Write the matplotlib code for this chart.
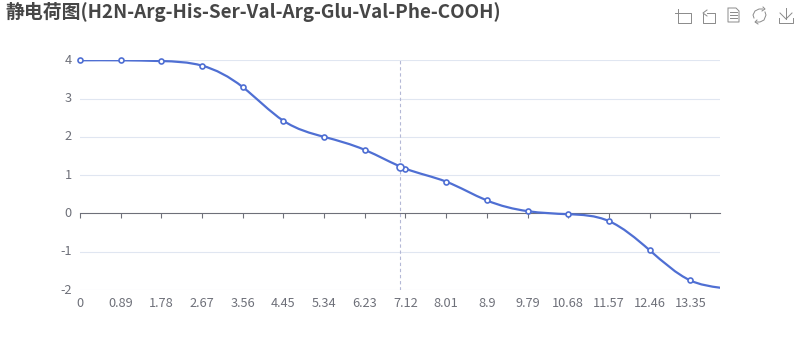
import matplotlib
matplotlib.use("Agg")
import matplotlib.pyplot as plt
import numpy as np
from matplotlib.lines import Line2D
from matplotlib.patches import PathPatch
from matplotlib.path import Path

plt.rcParams["font.family"] = ["Noto Sans CJK SC", "DejaVu Sans"]

LINE = "#4f6fd3"; TEXT = "#6e7079"; GRID = "#e0e6f1"; TITLE = "#464646"; POINTER = "#b4b8d6"; ICON = "#8a8a8a"

ph = [0, 0.89, 1.78, 2.67, 3.56, 4.45, 5.34, 6.23, 7.12, 8.01, 8.9, 9.79, 10.68, 11.57, 12.46, 13.35, 14]
charge = [4.0, 4.0, 3.98, 3.86, 3.3, 2.42, 2.0, 1.66, 1.17, 0.83, 0.34, 0.06, -0.02, -0.2, -0.96, -1.75, -1.94]
ph_ticks = [0, 0.89, 1.78, 2.67, 3.56, 4.45, 5.34, 6.23, 7.12, 8.01, 8.9, 9.79, 10.68, 11.57, 12.46, 13.35]
charge_ticks = [-2, -1, 0, 1, 2, 3, 4]
hover_ph = 7.01
hover_charge = 1.225
title = "静电荷图(H2N-Arg-His-Ser-Val-Arg-Glu-Val-Phe-COOH)"


def smooth_path(xs, ys):
    # natural cubic spline through the points, written as bezier segments
    n = len(xs)
    h = np.diff(xs)
    d = np.diff(ys) / h
    A = np.zeros((n, n))
    r = np.zeros(n)
    A[0, 0], A[0, 1], r[0] = 2, 1, 3 * d[0]
    A[-1, -1], A[-1, -2], r[-1] = 2, 1, 3 * d[-1]
    for i in range(1, n - 1):
        A[i, i - 1], A[i, i], A[i, i + 1] = h[i], 2 * (h[i - 1] + h[i]), h[i - 1]
        r[i] = 3 * (h[i] * d[i - 1] + h[i - 1] * d[i])
    m = np.linalg.solve(A, r)
    verts = [(xs[0], ys[0])]
    codes = [Path.MOVETO]
    for i in range(n - 1):
        verts.append((xs[i] + h[i] / 3, ys[i] + m[i] * h[i] / 3))
        verts.append((xs[i + 1] - h[i] / 3, ys[i + 1] - m[i + 1] * h[i] / 3))
        verts.append((xs[i + 1], ys[i + 1]))
        codes += [Path.CURVE4] * 3
    return Path(verts, codes)


fig = plt.figure(figsize=(8, 3.6), dpi=100)
ax = fig.add_axes([80 / 800, 70 / 360, 640 / 800, 229.7 / 360])
ax.set_xlim(0, 14)
ax.set_ylim(-2, 4)

for s in ("top", "right", "left"):
    ax.spines[s].set_visible(False)
ax.spines["bottom"].set_position(("data", 0))
ax.spines["bottom"].set_color(TEXT)
ax.spines["bottom"].set_linewidth(0.8)

for v in charge_ticks:
    if v != 0:
        ax.axhline(v, color=GRID, lw=0.8, zorder=1)
ax.axvline(hover_ph, color=POINTER, lw=0.8, ls=(0, (3, 2.5)), zorder=2)

ax.add_patch(PathPatch(smooth_path(ph, charge), fill=False, edgecolor=LINE, lw=1.6, zorder=3, capstyle="round"))
ax.plot(ph[:-1], charge[:-1], ls="none", marker="o", ms=3.6, mfc="white", mec=LINE, mew=1.2, zorder=4, clip_on=False)
ax.plot([hover_ph], [hover_charge], ls="none", marker="o", ms=5, mfc="white", mec=LINE, mew=1.2, zorder=5)

ax.set_xticks(ph_ticks)
ax.set_xticklabels([str(t) for t in ph_ticks], fontsize=9.2, color=TEXT)
ax.set_yticks(charge_ticks)
ax.set_yticklabels([str(t) for t in charge_ticks], fontsize=9.2, color=TEXT)
ax.tick_params(axis="x", length=3.6, width=0.8, color=TEXT, pad=56.5)
ax.tick_params(axis="y", length=0, pad=6)
for lab in ax.get_yticklabels():
    lab.set_verticalalignment("center")

fig.text(5 / 800, 1 - 12 / 360, title, fontsize=13.6, fontweight="bold", color=TITLE, ha="left", va="center")


# toolbox icons, given in pixels from the top left
def icon(*segs):
    for seg in segs:
        fig.add_artist(Line2D([p[0] / 800 for p in seg], [1 - p[1] / 360 for p in seg],
                              transform=fig.transFigure, color=ICON, lw=0.7))


icon([(678, 9), (678, 23), (691, 23), (691, 13), (675, 13)])
icon([(707, 13), (715, 13), (715, 23), (703, 23), (703, 14)], [(707, 10), (703, 13), (707, 16)])
icon([(729, 8), (736, 8), (739, 11), (739, 22), (728, 22), (728, 8)],
     [(730, 12), (737, 12)], [(730, 15), (737, 15)], [(730, 18), (737, 18)])
icon([(754, 18), (753, 15), (755, 11), (759, 9), (763, 9)],
     [(765, 12), (766, 15), (764, 20), (760, 22), (756, 22)],
     [(763, 7), (765, 9), (762, 11)], [(757, 20), (755, 22), (758, 24)])
icon([(786, 8), (786, 19)], [(780, 13), (786, 19), (792, 13)], [(779, 18), (779, 23), (793, 23), (793, 18)])

fig.savefig("out.png", dpi=100)
